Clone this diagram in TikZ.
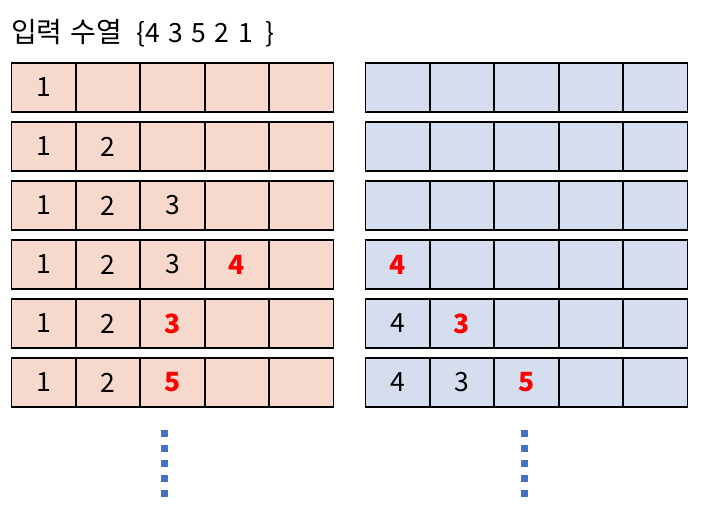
\documentclass[tikz,border=0pt]{standalone}
\usepackage{fontspec}
\setmainfont{Noto Sans CJK KR}
\definecolor{pinkfill}{HTML}{F7D8CD}
\definecolor{bluefill}{HTML}{D5DEEF}
\definecolor{dotblue}{HTML}{4472C4}
\definecolor{redtext}{HTML}{FF0000}
\newcommand\nv[1]{\textcolor{redtext}{\bfseries #1}}
\newcommand\hg[1]{{\fontsize{28}{28}\selectfont #1}}
\newcommand\cellrow[9]{%
  \node[#1] (#2-1) at (#3,#4) {#5};
  \node[#1] (#2-2) at ({#3+64.4},#4) {#6};
  \node[#1] (#2-3) at ({#3+128.8},#4) {#7};
  \node[#1] (#2-4) at ({#3+193.2},#4) {#8};
  \node[#1] (#2-5) at ({#3+257.6},#4) {#9};}
\begin{document}
\begin{tikzpicture}[x=1pt,y=-1pt,
  cell/.style={draw=black, line width=1.8pt, minimum width=64.4pt, minimum height=49pt,
    inner sep=0pt, anchor=north west, font=\fontsize{26.5}{26.5}\selectfont},
  pinkcell/.style={cell, fill=pinkfill},
  bluecell/.style={cell, fill=bluefill},
  dotsq/.style={fill=dotblue, minimum size=7pt, inner sep=0pt, draw=none},
  titletext/.style={anchor=base west, inner sep=0pt, font=\fontsize{26.5}{26.5}\selectfont}]
\useasboundingbox (0,0) rectangle (705,532);
\node[titletext] (title) at (11,43) {\hg{입력}\hspace{8pt}\hg{수열}\hspace{14pt}\{4\hspace{8.5pt}3\hspace{8.5pt}5\hspace{8.5pt}2\hspace{8.5pt}1\hspace{13pt}\}};
% left grid
\cellrow{pinkcell}{L1}{10.5}{62}{1}{}{}{}{}
\cellrow{pinkcell}{L2}{10.5}{121}{1}{2}{}{}{}
\cellrow{pinkcell}{L3}{10.5}{180}{1}{2}{3}{}{}
\cellrow{pinkcell}{L4}{10.5}{239}{1}{2}{3}{\nv{4}}{}
\cellrow{pinkcell}{L5}{10.5}{298}{1}{2}{\nv{3}}{}{}
\cellrow{pinkcell}{L6}{10.5}{357}{1}{2}{\nv{5}}{}{}
% right grid
\cellrow{bluecell}{R1}{364.5}{62}{}{}{}{}{}
\cellrow{bluecell}{R2}{364.5}{121}{}{}{}{}{}
\cellrow{bluecell}{R3}{364.5}{180}{}{}{}{}{}
\cellrow{bluecell}{R4}{364.5}{239}{\nv{4}}{}{}{}{}
\cellrow{bluecell}{R5}{364.5}{298}{4}{\nv{3}}{}{}{}
\cellrow{bluecell}{R6}{364.5}{357}{4}{3}{\nv{5}}{}{}
% dots
\foreach \i in {0,...,4} {
  \node[dotsq] (LD\i) at (164,{433.5+15*\i}) {};
  \node[dotsq] (RD\i) at (524,{433.5+15*\i}) {};
}
\end{tikzpicture}
\end{document}
